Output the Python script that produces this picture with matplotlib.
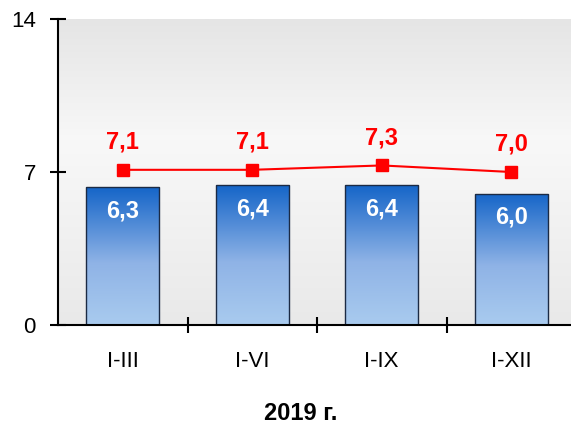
import numpy as np
import matplotlib
matplotlib.use("Agg")
import matplotlib.pyplot as plt
from matplotlib.colors import LinearSegmentedColormap

plt.rcParams['font.family'] = ['Liberation Sans', 'DejaVu Sans']

categories = ["I-III", "I-VI", "I-IX", "I-XII"]
bar_values = [6.3, 6.4, 6.4, 6.0]
line_values = [7.1, 7.1, 7.3, 7.0]
y_ticks = [0, 7, 14]
x_title = "2019 г."


def fmt(v):
    return f"{v:.1f}".replace(".", ",")


fig = plt.figure(figsize=(5.71, 4.29), dpi=100)
ax = fig.add_axes([58 / 571, 104 / 429, 518 / 571, 306 / 429])
x = np.arange(len(categories))

# plot area background: gray at top and bottom, near white in the middle
bg_cmap = LinearSegmentedColormap.from_list(
    "bg", [(0.0, "#e9e9e9"), (0.6, "#f8f8f8"), (1.0, "#e5e5e5")])
grad = np.linspace(0, 1, 256).reshape(-1, 1)
ax.imshow(grad, cmap=bg_cmap, aspect="auto", extent=(0, 1, 0, 1),
          transform=ax.transAxes, origin="lower", zorder=0)

# bars with vertical blue gradient
bar_cmap = LinearSegmentedColormap.from_list(
    "bars", [(0.0, "#a9cbef"), (0.45, "#8fb3e6"), (1.0, "#1565c8")])
bars = ax.bar(x, bar_values, width=0.565, facecolor="none",
              edgecolor="#1b2a44", linewidth=1.0, zorder=3)
for b, v in zip(bars, bar_values):
    x0 = b.get_x()
    im = ax.imshow(grad, cmap=bar_cmap, aspect="auto",
                   extent=(x0, x0 + b.get_width(), 0, v),
                   origin="lower", zorder=2)
    im.set_clip_path(b)
    ax.annotate(fmt(v), (b.get_x() + b.get_width() / 2, v),
                xytext=(0, -17), textcoords="offset points",
                ha="center", va="center", color="white",
                fontsize=17, fontweight="bold", zorder=5)

# line series with square markers
ax.plot(x, line_values, color="#ff0000", linewidth=1.5, marker="s",
        markersize=8.5, zorder=4)
for xi, v in zip(x, line_values):
    ax.annotate(fmt(v), (xi, v), xytext=(0, 20), textcoords="offset points",
                ha="center", va="center", color="#ff0000",
                fontsize=17, fontweight="bold", zorder=5)

ax.set_xlim(-0.5, len(categories) - 0.5)
ax.set_ylim(0, 14)

# axes styling
for s in ["top", "right"]:
    ax.spines[s].set_visible(False)
for s in ["left", "bottom"]:
    ax.spines[s].set_linewidth(1.5)
    ax.spines[s].set_color("black")
    ax.spines[s].set_zorder(6)

ax.set_yticks(y_ticks)
ax.set_yticklabels([str(t) for t in y_ticks], fontsize=16)
ax.tick_params(axis="y", direction="inout", length=12, width=1.5, pad=10)

ax.set_xticks(np.arange(0.5, len(categories) - 0.5, 1.0))
ax.set_xticklabels([])
ax.set_xticks(x, minor=True)
ax.set_xticklabels(categories, minor=True, fontsize=16)
ax.tick_params(axis="x", which="major", direction="inout", length=12, width=1.5)
ax.tick_params(axis="x", which="minor", length=0, pad=19)

fig.text(301 / 571, 1 - 414 / 429, x_title, ha="center", va="center",
         fontsize=17, fontweight="bold")

fig.savefig("out.png", dpi=100)
